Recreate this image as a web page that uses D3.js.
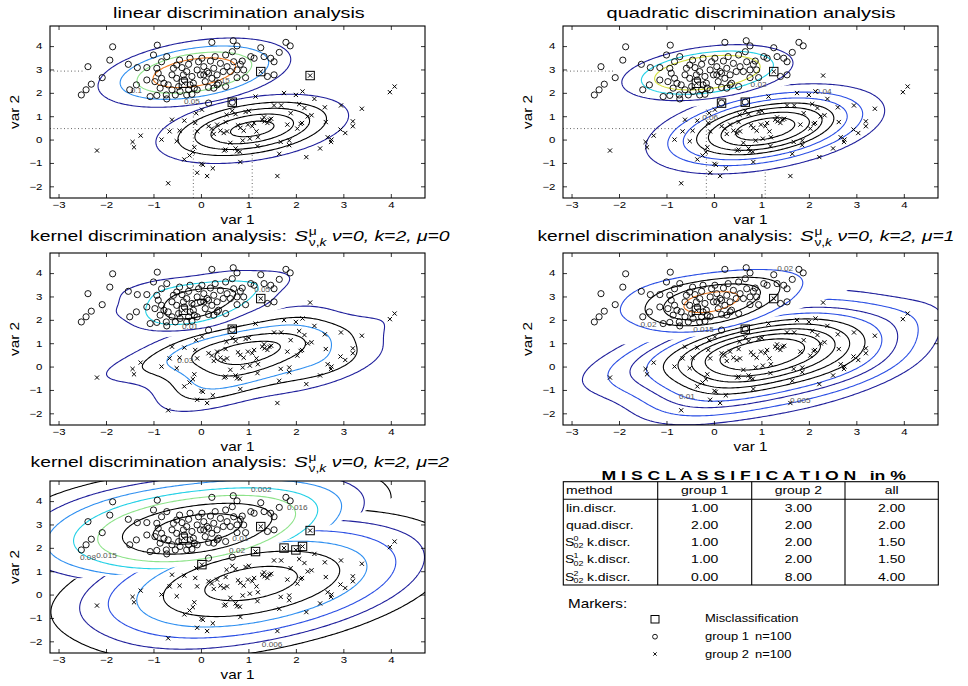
<!DOCTYPE html>
<html>
<head>
<meta charset="utf-8">
<script src="https://cdn.jsdelivr.net/npm/d3@7"></script>
<style>
  body { margin: 0; background: #fff; }
  svg text { font-family: "Liberation Sans", Arial, Helvetica, sans-serif; fill: #000; }
</style>
</head>
<body>
<svg id="chart" width="968" height="686"></svg>
<script>
// ---- data (var 1, var 2) ----
var group1 = [
  [-2.52,1.91],[-2.42,2.13],[-2.31,2.37],[-2.38,3.12],[-2.08,2.65],[-1.92,3.40],[-1.86,3.97],[-1.53,3.22],[-1.50,2.13],[-1.36,2.34],
  [-1.34,3.08],[-1.14,3.08],[-1.00,3.62],[-0.92,4.04],[-1.07,1.84],[-0.93,1.89],[-0.72,1.74],[-0.73,1.91],[-0.54,1.91],[0.23,4.16],
  [0.68,4.23],[0.76,4.01],[1.79,4.16],[1.88,4.01],[1.26,3.93],[1.33,3.55],[1.47,3.48],[1.65,3.73],[1.54,3.33],[0.87,3.36],
  [0.83,3.22],[0.76,2.65],[0.94,2.65],[1.54,2.77],[1.40,2.70],[0.16,1.56],[0.66,1.60],[0.52,2.27],[0.34,2.34],
  [-0.90,2.84],[-0.83,2.62],[-0.78,2.41],[-0.69,2.34],[-0.61,2.77],[-0.58,3.05],[-0.51,3.19],[-0.45,3.40],[-0.40,3.08],[-0.37,2.77],
  [-0.35,2.55],[-0.30,2.91],[-0.26,3.22],[-0.23,3.48],[-0.19,2.70],[-0.16,2.41],[-0.14,2.20],[-0.08,2.98],[-0.05,3.33],[-0.01,2.77],
  [0.02,3.48],[0.06,3.12],[0.09,2.48],[0.13,2.91],[0.16,2.23],[0.20,3.36],[0.23,2.62],[0.27,3.05],[0.30,3.55],[0.34,2.77],
  [0.37,2.41],[0.41,3.26],[0.47,2.91],[0.52,3.62],[0.55,3.12],[0.62,2.91],[0.69,3.33],[0.76,2.98],[0.90,2.98],[-0.08,2.13],
  [-0.26,2.13],[-0.44,2.06],[-0.30,1.91],[-0.19,1.94],[-0.61,2.13],[-0.86,2.20],[-0.47,2.27],[-0.23,2.34],[0.16,2.84],[0.06,2.77],
  [-0.97,2.48],[-0.51,2.62],[-1.14,2.55],[-0.93,3.05],[-0.83,3.33],[-0.72,3.55],[0.27,2.20],[1.05,3.55],[1.12,3.48],[0.66,3.76]
];
var group2 = [
  [-2.19,-0.47],[-1.44,-0.10],[-1.41,-0.33],[-1.27,0.17],[-0.83,0.00],[-0.69,-1.87],[-0.61,0.85],[-0.66,0.35],[-0.51,-0.07],[-0.45,0.38],
  [-0.35,0.81],[-0.35,-0.85],[-0.24,-0.68],[-0.17,-0.54],[-0.14,-0.33],[-0.12,0.71],[-0.10,1.13],[0.02,1.28],[-0.08,-1.42],[0.01,-1.04],
  [0.04,-1.08],[0.13,-1.56],[0.25,-1.23],[0.16,0.57],[0.27,0.24],[0.34,0.64],[0.41,0.38],[0.48,0.28],[0.52,0.75],[0.54,1.06],
  [0.62,-0.14],[0.66,1.23],[0.73,1.09],[0.78,0.61],[0.83,-0.96],[0.88,-0.04],[0.90,0.38],[0.94,1.18],[1.01,1.23],[1.03,0.04],
  [1.08,0.57],[1.12,0.71],[1.15,1.84],[1.17,0.35],[1.19,-0.28],[1.20,0.10],[1.29,0.85],[1.33,0.95],[1.34,0.78],[1.40,0.71],
  [1.44,0.85],[1.48,0.89],[1.54,1.46],[1.61,-1.56],[1.65,-0.61],[1.68,-0.10],[1.69,1.46],[1.75,1.99],[1.86,-0.04],[1.86,-0.24],
  [1.89,1.13],[2.00,1.91],[2.03,0.47],[2.07,1.52],[2.10,0.67],[2.13,0.71],[2.14,2.06],[2.18,1.35],[2.22,-0.75],[2.25,0.99],
  [2.33,1.04],[2.39,1.74],[2.51,-0.38],[2.61,1.38],[2.63,0.75],[2.74,-0.10],[2.75,0.00],[2.95,1.46],[3.04,0.28],[2.94,0.43],
  [3.20,0.78],[3.20,0.57],[3.39,1.32],[3.98,2.03],[4.08,2.27],[2.30,2.74],[1.26,2.91],[-0.37,2.41],[0.52,-0.43],[0.73,-0.38],
  [0.76,-0.50],[0.49,-0.47],[0.83,0.50],[0.23,0.47],[0.55,0.35],[0.99,0.64],[1.82,0.64],[-0.08,0.35],[0.82,-0.52],[2.67,0.10]
];

// misclassified points per method
var misLin = [[-0.37,2.41],[1.26,2.91],[2.30,2.74],[0.66,1.60]];
var misQuad = [[-0.37,2.41],[1.26,2.91],[0.16,1.56],[0.66,1.60]];
var misK0 = [[-0.37,2.41],[1.26,2.91],[0.66,1.60]];
var misK1 = [[-0.37,2.41],[1.26,2.91],[0.66,1.60]];
var misK2 = [[-0.37,2.41],[1.26,2.91],[2.30,2.74],[1.15,1.84],[1.75,1.99],[2.00,1.91],[2.14,2.06],[0.02,1.28]];

// contour levels and colours (group 1 / group 2)
var NAVY = "#20209c", BLUE = "#2b4fe4", DODGER = "#2f8ff0", CYAN = "#22d0e6", LGREEN = "#8ee38a", YGREEN = "#d4e03c", ORANGE = "#f27c22", BLACK = "#000";
var levLin1 = [0.036, 0.071, 0.106, 0.141], colLin1 = [NAVY, DODGER, LGREEN, ORANGE];
var levLin2 = [0.036, 0.071, 0.106, 0.141, 0.176], colLin2 = [NAVY, BLACK, BLACK, BLACK, BLACK];
var levQuad1 = [0.048, 0.097, 0.141], colQuad1 = [NAVY, CYAN, YGREEN];
var levQuad2 = [0.0187, 0.0374, 0.056, 0.075, 0.093, 0.112, 0.131], colQuad2 = [NAVY, BLUE, BLUE, BLACK, BLACK, BLACK, BLACK];
var levK01 = [0.05, 0.11, 0.16, 0.21], colK01 = [NAVY, CYAN, BLACK, BLACK];
var levK02 = [0.017, 0.036, 0.055, 0.08, 0.105], colK02 = [NAVY, BLACK, DODGER, BLACK, BLACK];
var levK11 = [0.048, 0.082, 0.115, 0.149], colK11 = [BLUE, BLACK, BLACK, ORANGE];
var levK12 = [0.006, 0.012, 0.02, 0.028, 0.038, 0.048, 0.058, 0.068, 0.078], colK12 = [NAVY, BLUE, NAVY, BLUE, BLACK, BLACK, BLACK, BLACK, BLACK];
var levK21 = [0.0023, 0.0065, 0.0136, 0.026, 0.0425, 0.064, 0.092], colK21 = [BLACK, NAVY, DODGER, CYAN, LGREEN, BLACK, BLACK];
var levK22 = [0.0057, 0.0107, 0.0182, 0.0281, 0.0387, 0.0538], colK22 = [BLACK, NAVY, BLUE, DODGER, BLACK, BLACK];
var bandwidths = [0.55, 0.8, 1.2];

// contour labels [x, y, text]
var labLin = [[-0.19,1.52,"0.05"],[-1.36,1.99,"0.1"],[0.44,2.41,"0.15"]];
var labQuad = [[0.94,2.23,"0.02"],[2.31,1.94,"0.04"],[-0.08,0.85,"0.06"]];
var labK0 = [[-0.23,1.60,"0.01"],[1.29,3.21,"0.05"],[-0.33,0.16,"0.03"]];
var labK1 = [[1.50,4.10,"0.02"],[-1.38,1.69,"0.02"],[-0.22,1.50,"0.015"],[-0.57,-1.38,"0.01"],[1.82,-1.55,"0.005"]];
var labK2 = [[1.27,4.37,"0.002"],[1.50,-2.26,"0.006"],[0.83,2.31,"0.01"],[-1.99,1.56,"0.015"],[0.76,1.78,"0.02"],[2.03,3.60,"0.016"],[-2.38,1.49,"0.08"]];

// dotted guide lines [[x1,y1],[x2,y2]]
var dotsLin = [[[-3.18,2.93],[-2.44,2.93]],[[-3.18,0.47],[-0.58,0.47]],[[-0.16,-2.5],[-0.16,1.25]],[[1.08,-2.5],[1.08,-0.55]]];
var dotsQuad = [[[-3.18,2.93],[-2.12,2.93]],[[-3.18,0.47],[-0.75,0.47]],[[-0.16,-2.5],[-0.16,1.39]],[[1.08,-2.5],[1.08,-1.39]]];

var xTicks = [-3, -2, -1, 0, 1, 2, 3, 4];
var yTicks = [-2, -1, 0, 1, 2, 3, 4];
var xDomain = [-3.18, 4.72], yDomain = [-2.5, 4.86];

// table
var methods = ["lin.discr.", "quad.discr.", "k.discr.", "k.discr.", "k.discr."];
var methodMu = [null, null, "0", "1", "2"];
var err1 = [1.00, 2.00, 1.00, 1.00, 0.00];
var err2 = [3.00, 2.00, 2.00, 2.00, 8.00];
var errAll = [2.00, 2.00, 1.50, 1.50, 4.00];

// ---- drawing ----
var svg = d3.select("#chart");
var defs = svg.append("defs");
var W = 375, H = 172, SX = 1.27;

var panels = [
  {x0: 50, y0: 26, model: "lin", mis: misLin, lev1: levLin1, col1: colLin1, lev2: levLin2, col2: colLin2, labels: labLin, dots: dotsLin},
  {x0: 563, y0: 26, model: "quad", mis: misQuad, lev1: levQuad1, col1: colQuad1, lev2: levQuad2, col2: colQuad2, labels: labQuad, dots: dotsQuad},
  {x0: 50, y0: 253, model: "kernel", h: bandwidths[0], mis: misK0, lev1: levK01, col1: colK01, lev2: levK02, col2: colK02, labels: labK0, dots: []},
  {x0: 563, y0: 253, model: "kernel", h: bandwidths[1], mis: misK1, lev1: levK11, col1: colK11, lev2: levK12, col2: colK12, labels: labK1, dots: []},
  {x0: 50, y0: 481, model: "kernel", h: bandwidths[2], mis: misK2, lev1: levK21, col1: colK21, lev2: levK22, col2: colK22, labels: labK2, dots: []}
];

function stats(pts) {
  var n = pts.length, mx = d3.mean(pts, function(d) { return d[0]; }), my = d3.mean(pts, function(d) { return d[1]; });
  var a = 0, b = 0, c = 0;
  pts.forEach(function(p) { a += (p[0] - mx) * (p[0] - mx); b += (p[1] - my) * (p[1] - my); c += (p[0] - mx) * (p[1] - my); });
  return {n: n, mx: mx, my: my, a: a / (n - 1), b: b / (n - 1), c: c / (n - 1)};
}
function gauss(mx, my, a, b, c) {
  var det = a * b - c * c, ia = b / det, ib = a / det, ic = -c / det, k = 1 / (2 * Math.PI * Math.sqrt(det));
  return function(x, y) {
    var dx = x - mx, dy = y - my;
    return k * Math.exp(-0.5 * (ia * dx * dx + 2 * ic * dx * dy + ib * dy * dy));
  };
}
function kernel(pts, s, h) {
  var a = s.a * h * h, b = s.b * h * h, c = s.c * h * h;
  var det = a * b - c * c, ia = b / det, ib = a / det, ic = -c / det, k = 1 / (2 * Math.PI * Math.sqrt(det) * pts.length);
  return function(x, y) {
    var sum = 0;
    for (var i = 0; i < pts.length; i++) {
      var dx = x - pts[i][0], dy = y - pts[i][1];
      sum += Math.exp(-0.5 * (ia * dx * dx + 2 * ic * dx * dy + ib * dy * dy));
    }
    return k * sum;
  };
}

var STEP = 0.05, GX0 = -3.5, GY0 = -2.9, NX = 172, NY = 164;
function grid(f) {
  var v = new Array(NX * NY);
  for (var j = 0; j < NY; j++) for (var i = 0; i < NX; i++) v[i + j * NX] = f(GX0 + i * STEP, GY0 + j * STEP);
  return v;
}

var s1 = stats(group1), s2 = stats(group2);
var pooled = {
  a: ((s1.n - 1) * s1.a + (s2.n - 1) * s2.a) / (s1.n + s2.n - 2),
  b: ((s1.n - 1) * s1.b + (s2.n - 1) * s2.b) / (s1.n + s2.n - 2),
  c: ((s1.n - 1) * s1.c + (s2.n - 1) * s2.c) / (s1.n + s2.n - 2)
};

function crossPath(x, y, r) {
  return "M" + (x - r) + "," + (y - r) + "L" + (x + r) + "," + (y + r) + "M" + (x - r) + "," + (y + r) + "L" + (x + r) + "," + (y - r);
}

panels.forEach(function(p, pi) {
  var xs = d3.scaleLinear().domain(xDomain).range([p.x0, p.x0 + W]);
  var ys = d3.scaleLinear().domain(yDomain).range([p.y0 + H, p.y0]);
  var f1, f2;
  if (p.model === "lin") {
    f1 = gauss(s1.mx, s1.my, pooled.a, pooled.b, pooled.c);
    f2 = gauss(s2.mx, s2.my, pooled.a, pooled.b, pooled.c);
  } else if (p.model === "quad") {
    f1 = gauss(s1.mx, s1.my, s1.a, s1.b, s1.c);
    f2 = gauss(s2.mx, s2.my, s2.a, s2.b, s2.c);
  } else {
    f1 = kernel(group1, s1, p.h);
    f2 = kernel(group2, s2, p.h);
  }
  var v1 = grid(f1), v2 = grid(f2);
  var d1 = v1.map(function(v, i) { return v - v2[i]; });
  var d2 = v2.map(function(v, i) { return v - v1[i]; });

  // grid cell -> screen
  var proj = d3.geoTransform({point: function(gx, gy) {
    this.stream.point(xs(GX0 + (gx - 0.5) * STEP), ys(GY0 + (gy - 0.5) * STEP));
  }});
  var path = d3.geoPath(proj);
  var cont = d3.contours().size([NX, NY]);

  // each group's contours are shown only where that group wins
  defs.append("clipPath").attr("id", "box" + pi)
    .append("rect").attr("x", p.x0).attr("y", p.y0).attr("width", W).attr("height", H);
  defs.append("clipPath").attr("id", "reg" + pi + "a")
    .append("path").attr("clip-rule", "evenodd").attr("d", path(cont.thresholds([0])(d1)[0]));
  defs.append("clipPath").attr("id", "reg" + pi + "b")
    .append("path").attr("clip-rule", "evenodd").attr("d", path(cont.thresholds([0])(d2)[0]));

  var inner = svg.append("g").attr("clip-path", "url(#box" + pi + ")");
  [[v1, p.lev1, p.col1, "a"], [v2, p.lev2, p.col2, "b"]].forEach(function(set) {
    var g = inner.append("g").attr("clip-path", "url(#reg" + pi + set[3] + ")");
    g.selectAll("path")
      .data(cont.thresholds(set[1])(set[0]))
      .join("path")
      .attr("d", path)
      .attr("fill", "none")
      .attr("stroke", function(d, i) { return set[2][i]; })
      .attr("stroke-width", 1.1);
  });

  inner.selectAll("text.clab")
    .data(p.labels)
    .join("text")
    .attr("class", "clab")
    .attr("transform", function(d) { return "translate(" + xs(d[0]) + "," + ys(d[1]) + ") scale(" + SX + ",1)"; })
    .attr("text-anchor", "middle")
    .attr("font-size", 6.5)
    .style("fill", "#555")
    .text(function(d) { return d[2]; });

  inner.selectAll("line.dot")
    .data(p.dots)
    .join("line")
    .attr("x1", function(d) { return xs(d[0][0]); })
    .attr("y1", function(d) { return ys(d[0][1]); })
    .attr("x2", function(d) { return xs(d[1][0]); })
    .attr("y2", function(d) { return ys(d[1][1]); })
    .attr("stroke", "#555")
    .attr("stroke-width", 0.9)
    .attr("stroke-dasharray", "1,2.5");

  // points
  inner.selectAll("circle.g1")
    .data(group1)
    .join("circle")
    .attr("cx", function(d) { return xs(d[0]); })
    .attr("cy", function(d) { return ys(d[1]); })
    .attr("r", 3.1)
    .attr("fill", "none")
    .attr("stroke", "#000")
    .attr("stroke-width", 0.9);
  inner.selectAll("path.g2")
    .data(group2)
    .join("path")
    .attr("d", function(d) { return crossPath(xs(d[0]), ys(d[1]), 2.1); })
    .attr("stroke", "#000")
    .attr("stroke-width", 1);
  inner.selectAll("rect.mis")
    .data(p.mis)
    .join("rect")
    .attr("x", function(d) { return xs(d[0]) - 4.2; })
    .attr("y", function(d) { return ys(d[1]) - 4.2; })
    .attr("width", 8.4)
    .attr("height", 8.4)
    .attr("fill", "none")
    .attr("stroke", "#000")
    .attr("stroke-width", 1);

  // axes
  var gb = svg.append("g").attr("transform", "translate(0," + (p.y0 + H) + ")")
    .call(d3.axisBottom(xs).tickValues(xTicks).tickSizeInner(-4).tickSizeOuter(0).tickPadding(4));
  var gt = svg.append("g").attr("transform", "translate(0," + p.y0 + ")")
    .call(d3.axisTop(xs).tickValues(xTicks).tickSizeInner(-4).tickSizeOuter(0).tickFormat(""));
  var gl = svg.append("g").attr("transform", "translate(" + p.x0 + ",0)")
    .call(d3.axisLeft(ys).tickValues(yTicks).tickSizeInner(-4).tickSizeOuter(0).tickPadding(6));
  var gr = svg.append("g").attr("transform", "translate(" + (p.x0 + W) + ",0)")
    .call(d3.axisRight(ys).tickValues(yTicks).tickSizeInner(-4).tickSizeOuter(0).tickFormat(""));
  [gb, gt, gl, gr].forEach(function(g) {
    g.select(".domain").remove();
    g.attr("font-family", null).attr("font-size", null);
    g.selectAll("line").attr("stroke", "#000").attr("stroke-width", 0.8);
    g.selectAll("text").attr("font-size", 9).attr("transform", "scale(" + SX + ",1)");
  });
  svg.append("rect").attr("x", p.x0).attr("y", p.y0).attr("width", W).attr("height", H)
    .attr("fill", "none").attr("stroke", "#000").attr("stroke-width", 1.1);

  svg.append("text")
    .attr("transform", "translate(" + (p.x0 + W / 2) + "," + (p.y0 + H + 26) + ") scale(" + SX + ",1)")
    .attr("text-anchor", "middle").attr("font-size", 12).text("var 1");
  svg.append("text")
    .attr("transform", "translate(" + (p.x0 - 31) + "," + (p.y0 + H / 2) + ") rotate(-90) scale(" + SX + ",1)")
    .attr("text-anchor", "middle").attr("font-size", 12).text("var 2");
});

// ---- titles ----
function fit(g, cx, y, width) {
  var bb = g.node().getBBox();
  g.attr("transform", "translate(" + cx + "," + y + ") scale(" + (width / bb.width) + ",1) translate(" + (-bb.x - bb.width / 2) + ",0)");
}
function plainTitle(str, cx, y, width) {
  var g = svg.append("g");
  g.append("text").attr("font-size", 15).text(str);
  fit(g, cx, y, width);
}
function kernelTitle(mu, cx, y, width) {
  var g = svg.append("g");
  var a = g.append("text").attr("font-size", 14).text("kernel discrimination analysis:");
  var x = a.node().getComputedTextLength() + 5;
  var s = g.append("text").attr("x", x).attr("font-size", 15).attr("font-style", "italic").text("S");
  x += s.node().getComputedTextLength() + 0.5;
  var sup = g.append("text").attr("x", x).attr("y", -6).attr("font-size", 10).text("\u03bc");
  var sub = g.append("text").attr("x", x).attr("y", 5).attr("font-size", 10);
  sub.append("tspan").text("\u03bd,");
  sub.append("tspan").attr("font-style", "italic").text("k");
  x += Math.max(sup.node().getComputedTextLength(), sub.node().getComputedTextLength()) + 4;
  g.append("text").attr("x", x).attr("font-size", 14).attr("font-style", "italic").text("\u03bd=0, k=2, \u03bc=" + mu);
  fit(g, cx, y, width);
}
plainTitle("linear discrimination analysis", 239, 18.3, 252);
plainTitle("quadratic discrimination analysis", 751, 18.3, 289);
kernelTitle("0", 240, 240.7, 420);
kernelTitle("1", 746, 240.7, 417);
kernelTitle("2", 240, 467, 419);

// ---- misclassification table ----
var tg = svg.append("g");
var tTitle = tg.append("g");
var tt1 = tTitle.append("text").attr("font-size", 12).attr("font-weight", "bold").text("M I S C L A S S I F I C A T I O N");
tTitle.append("text").attr("x", tt1.node().getComputedTextLength() + 9).attr("font-size", 12).attr("font-weight", "bold").text("in %");
fit(tTitle, 754, 479.5, 305);

var colEdges = [563.3, 657.7, 751.7, 845, 938.3];
var tTop = 481.7, tHead = 499.3, tBottom = 585;
tg.append("rect").attr("x", colEdges[0]).attr("y", tTop).attr("width", colEdges[4] - colEdges[0]).attr("height", tBottom - tTop)
  .attr("fill", "none").attr("stroke", "#000").attr("stroke-width", 1.1);
tg.append("line").attr("x1", colEdges[0]).attr("x2", colEdges[4]).attr("y1", tHead).attr("y2", tHead)
  .attr("stroke", "#000").attr("stroke-width", 1.1);
colEdges.slice(1, 4).forEach(function(x) {
  tg.append("line").attr("x1", x).attr("x2", x).attr("y1", tTop).attr("y2", tBottom).attr("stroke", "#000").attr("stroke-width", 1.1);
});
function ttext(x, y, str, anchor, size) {
  return tg.append("text").attr("transform", "translate(" + x + "," + y + ") scale(" + SX + ",1)")
    .attr("text-anchor", anchor).attr("font-size", size || 11).text(str);
}
ttext(566, 494, "method", "start");
["group 1", "group 2", "all"].forEach(function(h, i) {
  ttext((colEdges[i + 1] + colEdges[i + 2]) / 2, 494, h, "middle");
});
var rowBase = [512.3, 529, 545.7, 563.3, 580.7];
methods.forEach(function(m, i) {
  var y = rowBase[i];
  if (methodMu[i] === null) {
    ttext(566, y, m, "start");
  } else {
    ttext(565, y, "S", "start");
    ttext(573.5, y - 5, methodMu[i], "start", 7);
    ttext(573.5, y + 2.5, "02", "start", 7);
    ttext(587, y, m, "start");
  }
  ttext((colEdges[1] + colEdges[2]) / 2, y, err1[i].toFixed(2), "middle");
  ttext((colEdges[2] + colEdges[3]) / 2, y, err2[i].toFixed(2), "middle");
  ttext((colEdges[3] + colEdges[4]) / 2, y, errAll[i].toFixed(2), "middle");
});

// ---- marker legend ----
ttext(568, 608, "Markers:", "start", 12);
tg.append("rect").attr("x", 651).attr("y", 615.5).attr("width", 8).attr("height", 7.5)
  .attr("fill", "none").attr("stroke", "#000").attr("stroke-width", 1);
tg.append("circle").attr("cx", 655).attr("cy", 636.7).attr("r", 2.4).attr("fill", "none").attr("stroke", "#000").attr("stroke-width", 0.9);
tg.append("path").attr("d", crossPath(655, 654, 1.7)).attr("stroke", "#000").attr("stroke-width", 0.9);
ttext(705, 622, "Misclassification", "start", 10.2);
ttext(705, 640, "group 1", "start", 10.2);
ttext(755, 640, "n=100", "start", 10.2);
ttext(705, 657.7, "group 2", "start", 10.2);
ttext(755, 657.7, "n=100", "start", 10.2);
</script>
</body>
</html>
